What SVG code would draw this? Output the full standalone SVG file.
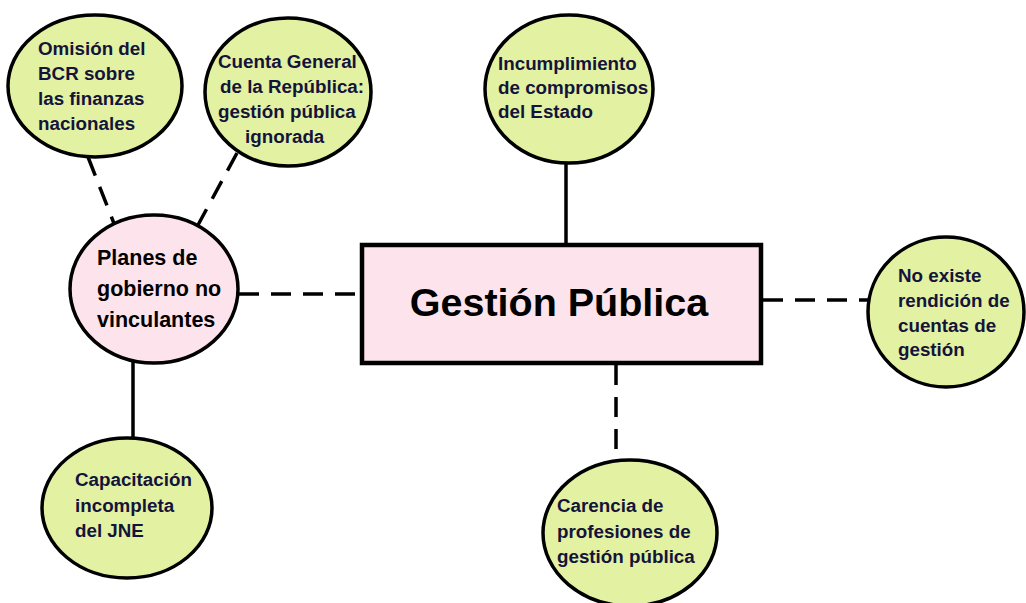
<svg xmlns="http://www.w3.org/2000/svg" width="1026" height="603" viewBox="0 0 1026 603">
<style>
.g{fill:#e3f1a3;stroke:#000;stroke-width:3.5}
.p{fill:#fde4ec;stroke:#000;stroke-width:3.5}
.t{font-family:"Liberation Sans",Arial,sans-serif;font-weight:bold;font-size:18.8px;fill:#14143a}
.pt{font-family:"Liberation Sans",Arial,sans-serif;font-weight:bold;font-size:21.5px;fill:#000}
.c{stroke:#000;stroke-width:3.5;fill:none}
.d{stroke-dasharray:20 12}
</style>
<rect width="1026" height="603" fill="#fff"/>
<g id="connectors">
<line class="c d" x1="88" y1="157" x2="115" y2="226"/>
<line class="c d" x1="237" y1="153" x2="198" y2="225"/>
<line class="c d" x1="239" y1="294" x2="361" y2="294"/>
<line class="c" x1="133" y1="362" x2="133" y2="439"/>
<line class="c" x1="566" y1="163" x2="566" y2="244"/>
<line class="c d" x1="763" y1="300" x2="869" y2="300"/>
<line class="c d" x1="616" y1="365" x2="616" y2="461"/>
</g>
<g id="gestion">
<rect x="362" y="245" width="399" height="118" fill="#fde4ec" stroke="#000" stroke-width="4.5"/>
<text x="559" y="316" text-anchor="middle" style="font-family:'Liberation Sans',Arial,sans-serif;font-weight:bold;font-size:39.5px;fill:#000">Gestión Pública</text>
</g>
<g id="omision">
<ellipse class="g" cx="95" cy="86" rx="87" ry="71"/>
<text class="t" x="38" y="55">Omisión del</text>
<text class="t" x="38" y="80">BCR sobre</text>
<text class="t" x="38" y="105">las finanzas</text>
<text class="t" x="38" y="130">nacionales</text>
</g>
<g id="cuenta">
<ellipse class="g" cx="288" cy="92" rx="83" ry="74"/>
<text class="t" x="218" y="68">Cuenta General</text>
<text class="t" x="220" y="93">de la República:</text>
<text class="t" x="218" y="118">gestión pública</text>
<text class="t" x="245" y="143">ignorada</text>
</g>
<g id="planes">
<ellipse class="p" cx="154" cy="289" rx="84" ry="74"/>
<text class="pt" x="97" y="265">Planes de</text>
<text class="pt" x="97" y="296">gobierno no</text>
<text class="pt" x="97" y="327">vinculantes</text>
</g>
<g id="incumplimiento">
<ellipse class="g" cx="569" cy="89" rx="84" ry="74"/>
<text class="t" x="498" y="70">Incumplimiento</text>
<text class="t" x="498" y="94">de compromisos</text>
<text class="t" x="498" y="118">del Estado</text>
</g>
<g id="rendicion">
<ellipse class="g" cx="946" cy="312" rx="78" ry="75"/>
<text class="t" x="898" y="282">No existe</text>
<text class="t" x="898" y="307">rendición de</text>
<text class="t" x="898" y="332">cuentas de</text>
<text class="t" x="898" y="356">gestión</text>
</g>
<g id="capacitacion">
<ellipse class="g" cx="127" cy="508" rx="85" ry="70"/>
<text class="t" x="75" y="486">Capacitación</text>
<text class="t" x="75" y="512">incompleta</text>
<text class="t" x="75" y="537">del JNE</text>
</g>
<g id="carencia">
<ellipse class="g" cx="630" cy="533" rx="87" ry="73"/>
<text class="t" x="557" y="512">Carencia de</text>
<text class="t" x="557" y="538">profesiones de</text>
<text class="t" x="557" y="563">gestión pública</text>
</g>
</svg>
